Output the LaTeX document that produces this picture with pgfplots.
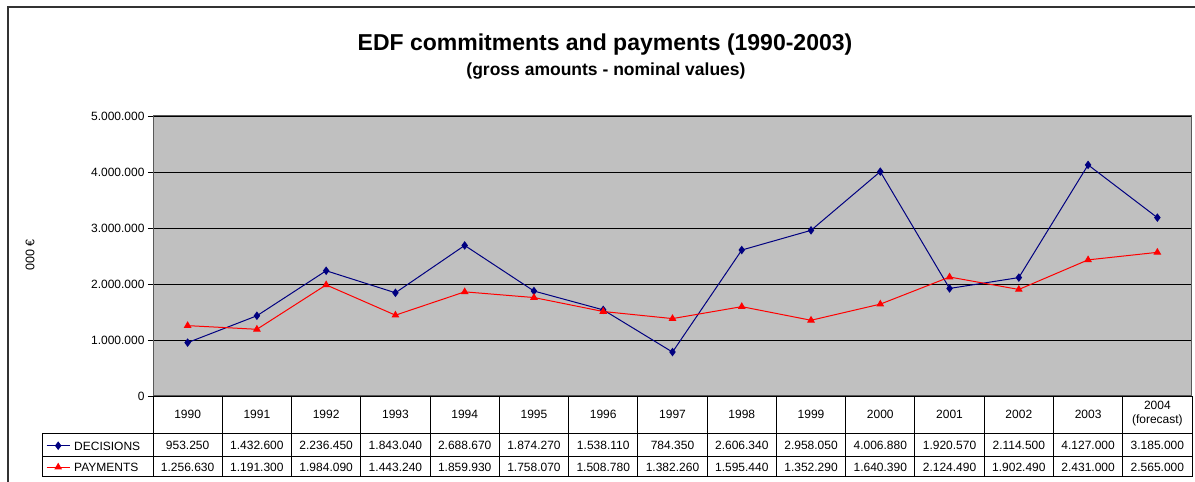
\documentclass[border=0pt]{standalone}
\usepackage{fontspec}
\setmainfont{Liberation Sans}
\usepackage{pgfplots}
\pgfplotsset{compat=1.18}
\definecolor{plotgray}{RGB}{192,192,192}
\definecolor{navyblue}{RGB}{0,0,128}
\definecolor{xlred}{RGB}{255,0,0}

\begin{document}
\begin{tikzpicture}[x=1pt,y=1pt]
\useasboundingbox (0,0) rectangle (1195,482);
% outer chart frame
\draw[line width=1.5pt, black!80] (8,-2) -- (8,475) -- (1197,475);
\node[font=\bfseries\fontsize{23}{27}\selectfont] at (605,437) {EDF commitments and payments (1990-2003)};
\node[font=\bfseries\fontsize{17.5}{20}\selectfont] at (606,411) {(gross amounts - nominal values)};
\node[rotate=90, font=\fontsize{12.5}{14}\selectfont] at (30,227) {000 €};

\begin{axis}[
  at={(153pt,86pt)}, anchor=south west,
  width=1039pt, height=280pt, scale only axis,
  xmin=-0.5, xmax=14.5, ymin=0, ymax=5000000,
  xtick=\empty,
  ytick={0,1000000,2000000,3000000,4000000,5000000},
  yticklabels={0,1.000.000,2.000.000,3.000.000,4.000.000,5.000.000},
  scaled y ticks=false,
  ytick pos=left, tick align=outside, major tick length=5pt,
  tick style={black, line width=0.8pt},
  yticklabel style={font=\fontsize{12}{14}\selectfont},
  axis background/.style={fill=plotgray},
  axis line style={black!65, line width=1pt},
  ymajorgrids, major grid style={black, line width=0.8pt},
  clip=false,
  legend style={at={(axis description cs:-0.1030,-0.1607)}, anchor=north west,
    draw=none, fill=none, font=\fontsize{12}{14}\selectfont,
    inner sep=0pt, row sep=12.5pt,
    nodes={inner sep=0pt, text height=9pt, text depth=0pt}},
  legend cell align=left,
  legend image code/.code={\draw[mark repeat=2,mark phase=2] plot coordinates {(0pt,0pt)(11.5pt,0pt)(23pt,0pt)}; \path (27pt,0pt);},
]
\addplot[navyblue, line width=1pt, mark=diamond*, mark size=3.5pt, mark options={solid}] coordinates {
(0,953250) (1,1432600) (2,2236450) (3,1843040) (4,2688670) (5,1874270) (6,1538110) (7,784350)
(8,2606340) (9,2958050) (10,4006880) (11,1920570) (12,2114500) (13,4127000) (14,3185000)};
\addlegendentry{DECISIONS}
\addplot[xlred, line width=1pt, mark=triangle*, mark size=3.5pt, mark options={solid}] coordinates {
(0,1256630) (1,1191300) (2,1984090) (3,1443240) (4,1859930) (5,1758070) (6,1508780) (7,1382260)
(8,1595440) (9,1352290) (10,1640390) (11,2124490) (12,1902490) (13,2431000) (14,2565000)};
\addlegendentry{PAYMENTS}
\end{axis}

% data table
\begin{scope}[line width=1pt, black]
\draw (42,48) -- (1192,48);
\draw (42,25) -- (1192,25);
\draw (42,5) -- (1192,5);
\draw (42,5) -- (42,48);
\foreach \k in {0,...,15} \draw ({153+69.267*\k},5) -- ({153+69.267*\k},86);
\end{scope}
\begin{scope}[font=\fontsize{12}{14}\selectfont]
\foreach \y [count=\i from 0] in {1990,1991,1992,1993,1994,1995,1996,1997,1998,1999,2000,2001,2002,2003}
  \node at ({153+69.267*(\i+0.5)},68) {\y};
\node[align=center, font=\fontsize{12}{14}\selectfont] at ({153+69.267*14.5},68) {2004\\(forecast)};
\foreach \v [count=\i from 0] in {953.250,1.432.600,2.236.450,1.843.040,2.688.670,1.874.270,1.538.110,784.350,2.606.340,2.958.050,4.006.880,1.920.570,2.114.500,4.127.000,3.185.000}
  \node at ({153+69.267*(\i+0.5)},36.5) {\v};
\foreach \v [count=\i from 0] in {1.256.630,1.191.300,1.984.090,1.443.240,1.859.930,1.758.070,1.508.780,1.382.260,1.595.440,1.352.290,1.640.390,2.124.490,1.902.490,2.431.000,2.565.000}
  \node at ({153+69.267*(\i+0.5)},15) {\v};
\end{scope}
\end{tikzpicture}
\end{document}
